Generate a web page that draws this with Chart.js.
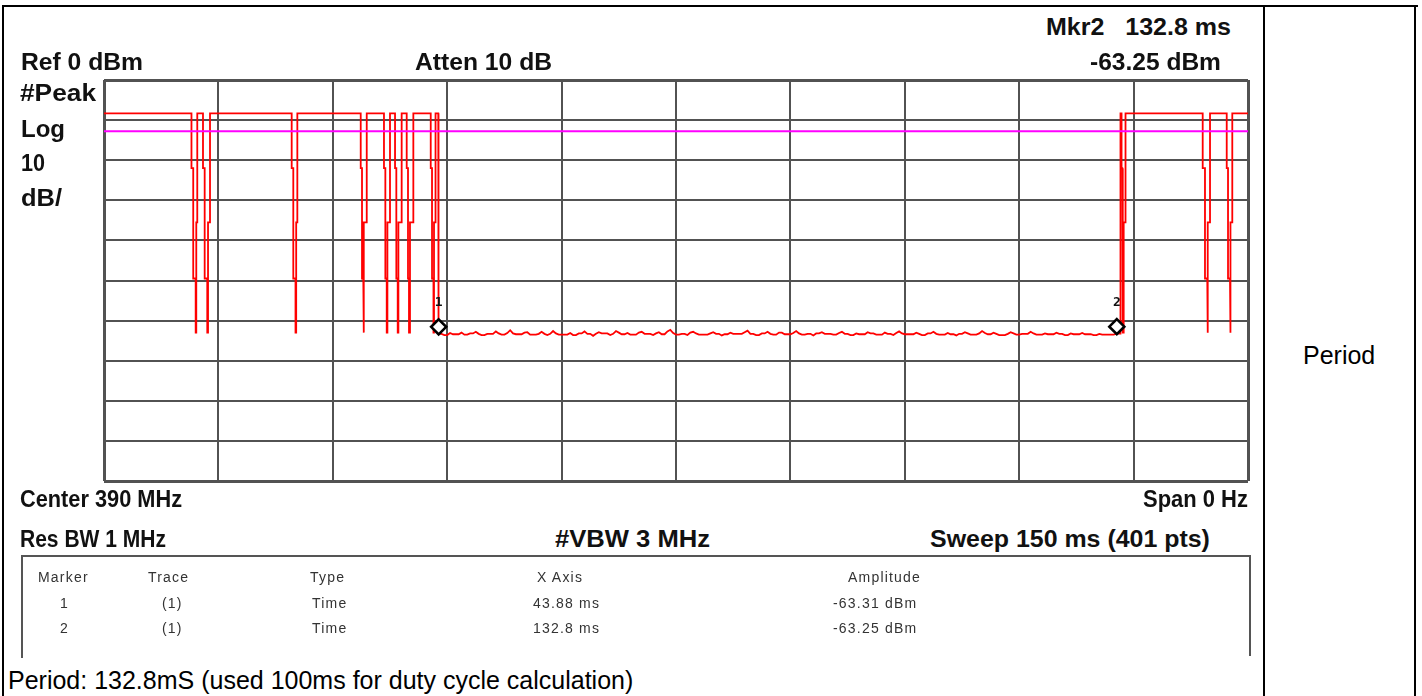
<!DOCTYPE html>
<html>
<head>
<meta charset="utf-8">
<script src="https://cdn.jsdelivr.net/npm/chart.js@4.4.0/dist/chart.umd.min.js"></script>
<style>
  html, body { margin: 0; padding: 0; background: #fff; }
  body { width: 1422px; height: 696px; position: relative; overflow: hidden; font-family: "Liberation Sans", Arial, sans-serif; }
  .rule { position: absolute; background: #000; }
  .box { position: absolute; background: #555; }
  .lbl { position: absolute; white-space: pre; line-height: 1; color: #111; transform-origin: 0 50%; }
  .hd { font-weight: bold; font-size: 23px; }
  .tb { font-size: 14px; color: #333; letter-spacing: 1.2px; }
  .nm { font-size: 25px; color: #000; }
  #plot { position: absolute; left: 94px; top: 70px; width: 1164px; height: 421px; }
</style>
</head>
<body>
<!-- table lines -->
<div class="rule" style="left:2px;top:5px;width:1416px;height:2px"></div>
<div class="rule" style="left:2px;top:5px;width:2px;height:691px"></div>
<div class="rule" style="left:1263px;top:5px;width:2px;height:691px"></div>
<div class="rule" style="left:1414px;top:5px;width:2px;height:691px"></div>
<!-- marker table frame -->
<div class="box" style="left:21px;top:555px;width:1230px;height:2px"></div>
<div class="box" style="left:21px;top:555px;width:2px;height:103px"></div>
<div class="box" style="left:1249px;top:555px;width:2px;height:101px"></div>

<div id="plot"><canvas id="trace"></canvas></div>

<script>
// sweep 150 ms, 401 pts
const sweepMs = 150;
const pointStepMs = 0.375;
const topLevel = -8.3;
const displayLine = -12.8;
const stepHigh = -22, stepMid = -35.5, stepLow = -49.5, stepFloor = -63;

// dropouts in the burst: [left edge, jog, bottom, rise, right edge] (ms)
const dropoutsFirst = [
  [11.47, 11.70, 12.02, 12.10, 12.23],
  [12.98, 13.20, 13.54, 13.64, 13.90],
  [24.61, 24.82, 25.11, 25.20, 25.35],
  [33.66, 33.83, 34.00, 34.09, 34.45],
  [36.71, 36.89, 37.07, 37.16, 37.50],
  [38.16, 38.33, 38.51, 38.60, 39.03],
  [39.69, 39.86, 39.99, 40.12, 40.56],
  [42.84, 43.01, 43.20, 43.27, 43.47]
];
const burstEndMs = 43.83;
const burstRestartMs = 133.28;
const dropoutsSecond = [
  [133.42, 133.52, 133.61, 133.70, 133.94],
  [144.06, 144.36, 144.66, 144.75, 145.02],
  [147.21, 147.38, 147.64, 147.73, 147.94]
];

// noise floor between the bursts, one value per sweep point from 43.88 ms
const noiseStartMs = 43.88;
const noiseLevels = [
  -63.31,-63.3,-63.6,-63.6,-63.1,-63.4,-63.4,-63.4,-63.0,-63.5,-63.5,-63.2,-63.2,-62.8,
  -63.3,-63.6,-63.6,-63.3,-63.3,-63.3,-62.7,-63.2,-63.5,-63.5,-63.1,-62.4,-63.2,-63.4,
  -63.4,-63.4,-63.0,-62.9,-63.5,-63.5,-63.5,-63.3,-62.8,-63.3,-63.6,-63.3,-62.6,-63.2,
  -63.5,-63.5,-63.5,-63.5,-63.1,-63.6,-63.6,-63.2,-63.2,-62.7,-63.3,-63.3,-63.8,-63.3,
  -62.9,-63.2,-63.2,-63.2,-63.6,-63.3,-62.6,-63.0,-63.4,-63.4,-63.1,-63.5,-63.5,-63.5,
  -63.0,-62.8,-63.3,-63.3,-63.3,-63.6,-63.2,-62.9,-63.4,-63.4,-62.7,-62.3,-63.1,-63.5,
  -63.5,-63.3,-63.3,-63.6,-63.0,-62.8,-63.2,-63.5,-63.5,-63.5,-63.5,-63.2,-62.9,-63.3,
  -63.3,-63.7,-63.4,-63.4,-63.0,-63.3,-63.3,-63.3,-63.3,-62.9,-62.5,-63.3,-63.3,-63.6,
  -63.6,-63.2,-63.2,-62.8,-63.3,-63.5,-63.5,-63.0,-63.0,-63.4,-63.4,-63.4,-63.1,-62.6,
  -63.2,-63.5,-63.5,-63.3,-63.3,-63.7,-63.2,-63.2,-62.9,-63.3,-63.3,-63.3,-63.5,-63.5,
  -63.1,-62.8,-63.3,-63.3,-63.6,-63.6,-63.2,-63.4,-63.4,-63.4,-62.9,-63.2,-63.2,-63.5,
  -63.5,-63.5,-63.0,-63.3,-63.3,-63.6,-63.1,-62.7,-63.2,-63.4,-63.4,-63.4,-63.4,-63.0,
  -63.3,-63.6,-63.6,-63.2,-63.2,-62.8,-63.3,-63.5,-63.5,-63.5,-63.1,-63.4,-63.4,-63.7,
  -63.3,-63.3,-62.9,-63.2,-63.5,-63.5,-63.5,-63.2,-62.6,-63.1,-63.4,-63.4,-63.0,-63.3,
  -63.6,-63.6,-63.6,-63.3,-62.9,-63.2,-63.5,-63.5,-63.3,-63.3,-63.3,-62.8,-63.2,-63.5,
  -63.5,-63.5,-63.2,-63.4,-63.4,-63.4,-63.0,-63.3,-63.3,-63.6,-63.6,-63.2,-63.4,-63.4,
  -63.4,-63.1,-63.4,-63.4,-63.4,-63.6,-63.6,-63.3,-63.5,-63.5,-63.5,-63.5,-63.5,-63.25
];

const markerNames = ['1', '2'];
const markerTimes = [43.88, 132.8];
const markerLevels = [-63.31, -63.25];

// build the trace path
const trace = [{ x: 0, y: topLevel }];
function addDropout(d) {
  trace.push(
    { x: d[0], y: topLevel }, { x: d[0], y: stepHigh },
    { x: d[1], y: stepHigh }, { x: d[1], y: stepLow },
    { x: d[2], y: stepLow }, { x: d[2], y: stepFloor },
    { x: d[3], y: stepFloor }, { x: d[3], y: stepMid },
    { x: d[4], y: stepMid }, { x: d[4], y: topLevel }
  );
}
dropoutsFirst.forEach(addDropout);
trace.push({ x: burstEndMs, y: topLevel }, { x: burstEndMs, y: stepMid }, { x: noiseStartMs, y: stepMid });
noiseLevels.forEach((v, i) => trace.push({ x: noiseStartMs + i * pointStepMs, y: v }));
trace.push({ x: burstRestartMs, y: noiseLevels[noiseLevels.length - 1] }, { x: burstRestartMs, y: topLevel });
dropoutsSecond.forEach(addDropout);
trace.push({ x: sweepMs, y: topLevel });

const markerPlugin = {
  id: 'markers',
  afterDatasetsDraw(chart) {
    const { ctx, scales: { x, y } } = chart;
    ctx.save();
    markerTimes.forEach((t, i) => {
      const px = x.getPixelForValue(t);
      const py = y.getPixelForValue(markerLevels[i]);
      const cy = py - 7;
      ctx.beginPath();
      ctx.moveTo(px, cy - 7.5);
      ctx.lineTo(px + 7.5, cy);
      ctx.lineTo(px, cy + 7.5);
      ctx.lineTo(px - 7.5, cy);
      ctx.closePath();
      ctx.fillStyle = '#fff';
      ctx.fill();
      ctx.lineWidth = 2.6;
      ctx.strokeStyle = '#000';
      ctx.stroke();
      ctx.fillStyle = '#111';
      ctx.font = 'bold 13px "DejaVu Sans Mono"';
      ctx.textAlign = 'center';
      ctx.textBaseline = 'middle';
      ctx.fillText(markerNames[i], px, py - 31);
    });
    ctx.restore();
  }
};

const edgeWidth = c => (c.index === 0 || c.index === 10) ? 3 : 2;

new Chart(document.getElementById('trace'), {
  type: 'line',
  data: {
    datasets: [{
      data: [{ x: 0, y: displayLine }, { x: sweepMs, y: displayLine }],
      borderColor: '#ff00ff',
      borderWidth: 2,
      pointRadius: 0
    }, {
      data: trace,
      borderColor: '#ff0000',
      borderWidth: 1.8,
      pointRadius: 0,
      tension: 0
    }]
  },
  options: {
    animation: false,
    responsive: true,
    maintainAspectRatio: false,
    layout: { padding: 10 },
    plugins: { legend: { display: false }, tooltip: { enabled: false } },
    scales: {
      x: {
        type: 'linear', min: 0, max: sweepMs,
        ticks: { display: false, stepSize: 15 },
        grid: { color: '#525252', lineWidth: edgeWidth, drawTicks: false },
        border: { display: false }
      },
      y: {
        min: -100, max: 0,
        ticks: { display: false, stepSize: 10 },
        grid: { color: '#525252', lineWidth: edgeWidth, drawTicks: false },
        border: { display: false }
      }
    }
  },
  plugins: [markerPlugin]
});

// text around the display: [text, left, right (fit width) or null, centre y, class]
const labels = [
  ['Mkr2   132.8 ms', 1046, 1231, 27, 'hd'],
  ['Ref 0 dBm', 21, 143, 62, 'hd'],
  ['Atten 10 dB', 415, 552, 62, 'hd'],
  ['-63.25 dBm', 1090, 1221, 62, 'hd'],
  ['#Peak', 20, 96, 93, 'hd'],
  ['Log', 21, 65, 129, 'hd'],
  ['10', 21, 45, 163, 'hd'],
  ['dB/', 21, 62, 198, 'hd'],
  ['Center 390 MHz', 20, 182, 499, 'hd'],
  ['Span 0 Hz', 1143, 1248, 499, 'hd'],
  ['Res BW 1 MHz', 20, 166, 539, 'hd'],
  ['#VBW 3 MHz', 555, 710, 539, 'hd'],
  ['Sweep 150 ms (401 pts)', 930, 1210, 539, 'hd'],
  ['Marker', 38, null, 577, 'tb'],
  ['Trace', 148, null, 577, 'tb'],
  ['Type', 310, null, 577, 'tb'],
  ['X Axis', 537, null, 577, 'tb'],
  ['Amplitude', 848, null, 577, 'tb'],
  ['1', 60, null, 603, 'tb'],
  ['(1)', 162, null, 603, 'tb'],
  ['Time', 312, null, 603, 'tb'],
  ['43.88 ms', 533, null, 603, 'tb'],
  ['-63.31 dBm', 833, null, 603, 'tb'],
  ['2', 60, null, 628, 'tb'],
  ['(1)', 162, null, 628, 'tb'],
  ['Time', 312, null, 628, 'tb'],
  ['132.8 ms', 533, null, 628, 'tb'],
  ['-63.25 dBm', 833, null, 628, 'tb'],
  ['Period: 132.8mS (used 100ms for duty cycle calculation)', 8, null, 680, 'nm'],
  ['Period', 1303, null, 355, 'nm']
];

labels.forEach(([text, left, right, cy, cls]) => {
  const el = document.createElement('div');
  el.className = 'lbl ' + cls;
  el.textContent = text;
  document.body.appendChild(el);
  el.style.left = left + 'px';
  el.style.top = (cy - el.offsetHeight / 2) + 'px';
  if (right) {
    const w = el.getBoundingClientRect().width;
    el.style.transform = 'scaleX(' + ((right - left) / w).toFixed(3) + ')';
  }
});
</script>
</body>
</html>
